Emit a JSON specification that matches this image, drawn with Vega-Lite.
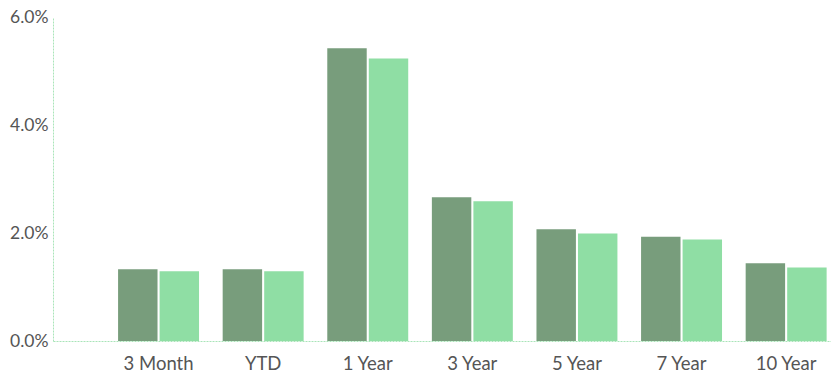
{
  "$schema": "https://vega.github.io/schema/vega-lite/v6.json",
  "width": 778,
  "height": 324,
  "autosize": {"type": "none"},
  "padding": {"left": 53, "top": 17, "right": 0, "bottom": 34},
  "background": "white",
  "config": {"view": {"stroke": null}},
  "data": {
    "values": [
      {"period": "3 Month", "series": "A", "value": 0.0133},
      {"period": "3 Month", "series": "B", "value": 0.0129},
      {"period": "YTD", "series": "A", "value": 0.0133},
      {"period": "YTD", "series": "B", "value": 0.0129},
      {"period": "1 Year", "series": "A", "value": 0.0542},
      {"period": "1 Year", "series": "B", "value": 0.0523},
      {"period": "3 Year", "series": "A", "value": 0.0266},
      {"period": "3 Year", "series": "B", "value": 0.0259},
      {"period": "5 Year", "series": "A", "value": 0.0207},
      {"period": "5 Year", "series": "B", "value": 0.0199},
      {"period": "7 Year", "series": "A", "value": 0.0193},
      {"period": "7 Year", "series": "B", "value": 0.0188},
      {"period": "10 Year", "series": "A", "value": 0.0144},
      {"period": "10 Year", "series": "B", "value": 0.0136}
    ]
  },
  "mark": {"type": "bar"},
  "encoding": {
    "x": {
      "field": "period",
      "type": "nominal",
      "sort": ["3 Month", "YTD", "1 Year", "3 Year", "5 Year", "7 Year", "10 Year"],
      "scale": {"paddingInner": 0.226, "paddingOuter": 0.332, "align": 0.937},
      "axis": {
        "title": null,
        "labelAngle": 0,
        "ticks": false,
        "domain": true,
        "domainColor": "#a9e4b8",
        "domainDash": [2, 1],
        "domainWidth": 1,
        "labelFont": "Lato",
        "labelFontSize": 18.5,
        "labelColor": "#555555",
        "labelPadding": 13,
        "labelBaseline": "top"
      }
    },
    "xOffset": {
      "field": "series",
      "type": "nominal",
      "scale": {"paddingInner": 0.05}
    },
    "y": {
      "field": "value",
      "type": "quantitative",
      "scale": {"domain": [0, 0.06], "nice": false},
      "axis": {
        "title": null,
        "values": [0, 0.02, 0.04, 0.06],
        "format": ".1%",
        "grid": false,
        "ticks": false,
        "domain": true,
        "domainColor": "#a9e4b8",
        "domainDash": [2, 1],
        "domainWidth": 1,
        "labelFont": "Lato",
        "labelFontSize": 17.5,
        "labelColor": "#555555",
        "labelPadding": 5
      }
    },
    "color": {
      "field": "series",
      "type": "nominal",
      "scale": {"domain": ["A", "B"], "range": ["#789d7c", "#8fdea4"]},
      "legend": null
    }
  }
}
